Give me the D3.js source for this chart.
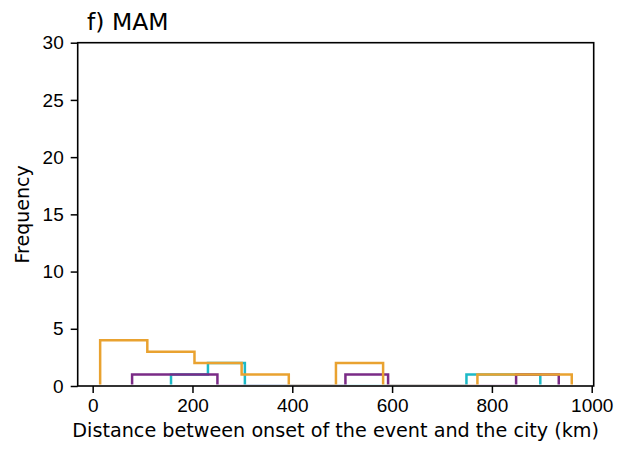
<!DOCTYPE html>
<html>
<head>
<meta charset="utf-8">
<script src="https://cdn.jsdelivr.net/npm/d3@7"></script>
<style>
  body { margin: 0; background: #fff; }
  svg { display: block; font-family: "DejaVu Sans", sans-serif; }
</style>
</head>
<body>
<div class="chart"></div>
<script>
// step histograms: bin edges (km) and counts per series
var orangeEdges = [15, 109.5, 204, 298.5, 393, 487.5, 582, 676.5, 771, 865.5, 960];
var orangeCounts = [4, 3, 2, 1, 0, 2, 0, 0, 1, 1];

var cyanEdges = [157, 231, 305, 379, 453, 527, 601, 675, 749, 823, 897];
var cyanCounts = [1, 2, 0, 0, 0, 0, 0, 0, 1, 1];

var purpleEdges = [79, 164.5, 250, 335.5, 421, 506.5, 592, 677.5, 763, 848.5, 934];
var purpleCounts = [1, 1, 0, 0, 0, 1, 0, 0, 0, 1];

var xTicks = [0, 200, 400, 600, 800, 1000];
var yTicks = [0, 5, 10, 15, 20, 25, 30];

var width = 621, height = 450;
var m = { left: 77.7, right: 593.7, top: 42.7, bottom: 386 };

var svg = d3.select('.chart')
    .append('svg')
    .attr('width', width)
    .attr('height', height);

// lines sitting on zero get hidden under the bottom spine
svg.append('clipPath')
    .attr('id', 'plotclip')
    .append('rect')
    .attr('x', 0)
    .attr('y', 0)
    .attr('width', width)
    .attr('height', m.bottom - 1.4);

var x = d3.scaleLinear()
    .domain([-30, 1004])
    .range([m.left, m.right]);

var y = d3.scaleLinear()
    .domain([0, 30])
    .range([m.bottom, m.top]);

// histogram outline as a path (like histtype='step')
function stepPath(edges, counts) {
    var pts = [[edges[0], 0]];
    counts.forEach(function(c, i) {
        pts.push([edges[i], c]);
        pts.push([edges[i + 1], c]);
    });
    pts.push([edges[edges.length - 1], 0]);
    return d3.line()
        .x(function(d) { return x(d[0]); })
        .y(function(d) { return y(d[1]); })(pts);
}

var series = [
    { edges: cyanEdges, counts: cyanCounts, color: '#1cb9c6' },
    { edges: purpleEdges, counts: purpleCounts, color: '#7a2b86' },
    { edges: orangeEdges, counts: orangeCounts, color: '#e9a230' }
];

svg.append('g')
    .attr('clip-path', 'url(#plotclip)')
    .selectAll('path.hist')
    .data(series)
    .enter()
    .append('path')
    .attr('class', 'hist')
    .attr('d', function(d) { return stepPath(d.edges, d.counts); })
    .attr('fill', 'none')
    .attr('stroke', function(d) { return d.color; })
    .attr('stroke-width', 2.5);

var xAxis = d3.axisBottom(x)
    .tickValues(xTicks)
    .tickFormat(d3.format('d'))
    .tickSize(7)
    .tickPadding(6);

var yAxis = d3.axisLeft(y)
    .tickValues(yTicks)
    .tickSize(7)
    .tickPadding(7);

svg.append('g')
    .attr('class', 'xAxis')
    .attr('transform', 'translate(0,' + m.bottom + ')')
    .call(xAxis);

svg.append('g')
    .attr('class', 'yAxis')
    .attr('transform', 'translate(' + m.left + ',0)')
    .call(yAxis);

svg.selectAll('.domain').remove();
svg.selectAll('.tick line').attr('stroke', '#000').attr('stroke-width', 1.5);
svg.selectAll('.tick text')
    .attr('fill', '#000')
    .style('font-size', '19px');

// frame
svg.append('rect')
    .attr('x', m.left)
    .attr('y', m.top)
    .attr('width', m.right - m.left)
    .attr('height', m.bottom - m.top)
    .attr('fill', 'none')
    .attr('stroke', '#000')
    .attr('stroke-width', 1.6);

svg.append('text')
    .attr('x', 87)
    .attr('y', 30)
    .style('font-size', '23.5px')
    .text('f) MAM');

svg.append('text')
    .attr('x', (m.left + m.right) / 2)
    .attr('y', 437)
    .attr('text-anchor', 'middle')
    .style('font-size', '19.2px')
    .text('Distance between onset of the event and the city (km)');

svg.append('text')
    .attr('transform', 'translate(29,' + ((m.top + m.bottom) / 2) + ') rotate(-90)')
    .attr('text-anchor', 'middle')
    .style('font-size', '19px')
    .text('Frequency');
</script>
</body>
</html>
